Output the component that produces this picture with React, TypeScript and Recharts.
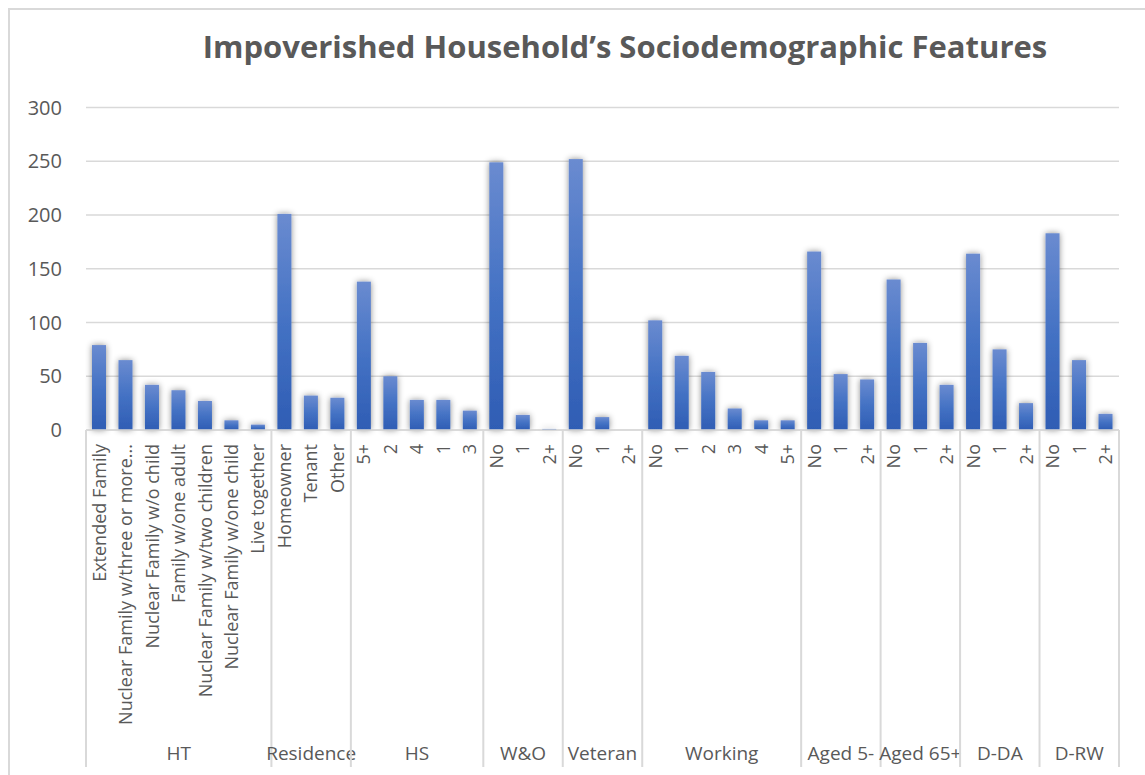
import React from 'react';
import { BarChart, Bar, XAxis, YAxis, CartesianGrid } from 'recharts';

const groups = ['HT', 'Residence', 'HS', 'W&O', 'Veteran', 'Working', 'Aged 5-', 'Aged 65+', 'D-DA', 'D-RW'];

const htLabels = [
    'Extended Family',
    'Nuclear Family w/three or more...',
    'Nuclear Family w/o child',
    'Family w/one adult',
    'Nuclear Family w/two children',
    'Nuclear Family w/one child',
    'Live together',
];
const htValues = [79, 65, 42, 37, 27, 9, 5];

const residenceLabels = ['Homeowner', 'Tenant', 'Other'];
const residenceValues = [201, 32, 30];

const hsLabels = ['5+', '2', '4', '1', '3'];
const hsValues = [138, 50, 28, 28, 18];

const woLabels = ['No', '1', '2+'];
const woValues = [249, 14, 1];

const veteranLabels = ['No', '1', '2+'];
const veteranValues = [252, 12, 0];

const workingLabels = ['No', '1', '2', '3', '4', '5+'];
const workingValues = [102, 69, 54, 20, 9, 9];

const aged5Labels = ['No', '1', '2+'];
const aged5Values = [166, 52, 47];

const aged65Labels = ['No', '1', '2+'];
const aged65Values = [140, 81, 42];

const ddaLabels = ['No', '1', '2+'];
const ddaValues = [164, 75, 25];

const drwLabels = ['No', '1', '2+'];
const drwValues = [183, 65, 15];

const yTicks = [0, 50, 100, 150, 200, 250, 300];

const groupLabels = [htLabels, residenceLabels, hsLabels, woLabels, veteranLabels, workingLabels, aged5Labels, aged65Labels, ddaLabels, drwLabels];
const groupValues = [htValues, residenceValues, hsValues, woValues, veteranValues, workingValues, aged5Values, aged65Values, ddaValues, drwValues];

// flatten into one row per bar, remembering where each group starts
const rows: any[] = [];
groups.forEach((g, gi) => {
    groupLabels[gi].forEach((label, i) => {
        rows.push({
            key: `${g}-${i}`,
            label,
            value: groupValues[gi][i],
            group: g,
            first: i === 0,
            size: groupLabels[gi].length,
        });
    });
});

const GRAY = '#595959';
const LINE = '#d9d9d9';
const FONT = '"Open Sans", sans-serif';

function CategoryTick(props: any) {
    const { x, y, payload } = props;
    const idx = props.index ?? payload.index;
    const row = rows[idx];
    const half = payload.offset ?? 13.25;
    const isLast = idx === rows.length - 1;
    return (
        <g>
            <text
                transform={`translate(${x},${y + 14}) rotate(-90)`}
                textAnchor="end"
                dy="0.35em"
                fill={GRAY}
                fontSize={18}
                fontFamily={FONT}
            >
                {row.label}
            </text>
            {row.first && (
                <>
                    <line x1={x - half} x2={x - half} y1={y} y2={y + 337} stroke={LINE} strokeWidth={2} />
                    <text
                        x={x - half + row.size * half}
                        y={y + 330}
                        textAnchor="middle"
                        fill={GRAY}
                        fontSize={19}
                        fontFamily={FONT}
                    >
                        {row.group}
                    </text>
                </>
            )}
            {isLast && <line x1={x + half} x2={x + half} y1={y} y2={y + 337} stroke={LINE} strokeWidth={2} />}
        </g>
    );
}

function ShadowBar(props: any) {
    const { x, y, width, height } = props;
    if (!height || height <= 0) return <g />;
    return <rect x={x} y={y} width={width} height={height} fill="url(#barGrad)" filter="url(#barShadow)" />;
}

export default function App() {
    return (
        <div style={{ position: 'absolute', left: 0, top: 0, width: 1145, height: 775, overflow: 'hidden', background: '#fff' }}>
            {/* chart frame, right and bottom edges fall outside the picture */}
            <div style={{ position: 'absolute', left: 8, top: 8, width: 1400, height: 900, border: `2px solid ${LINE}` }} />
            <div
                style={{
                    position: 'absolute', left: 125, top: 30.5, width: 1000, textAlign: 'center',
                    fontFamily: FONT, fontWeight: 'bold', fontSize: 31, lineHeight: '31px', color: GRAY,
                }}
            >
                Impoverished Household’s Sociodemographic Features
            </div>
            <div style={{ position: 'absolute', left: 0, top: 0 }}>
                <BarChart width={1145} height={775} data={rows} margin={{ top: 107.5, right: 26, bottom: 5, left: 10 }} barSize={14}>
                    <defs>
                        <linearGradient id="barGrad" x1="0" y1="0" x2="0" y2="1">
                            <stop offset="0%" stopColor="#6a8bd0" />
                            <stop offset="50%" stopColor="#4472c4" />
                            <stop offset="100%" stopColor="#2f5db4" />
                        </linearGradient>
                        <filter id="barShadow" filterUnits="userSpaceOnUse" x="0" y="0" width="1145" height="775">
                            <feDropShadow dx="0" dy="0" stdDeviation="3" floodColor="#000" floodOpacity="0.45" />
                        </filter>
                    </defs>
                    <CartesianGrid horizontal vertical={false} stroke={LINE} strokeWidth={1.5} />
                    <XAxis
                        dataKey="key"
                        interval={0}
                        height={340}
                        tickSize={0}
                        tickMargin={0}
                        tickLine={false}
                        axisLine={{ stroke: LINE, strokeWidth: 1.5 }}
                        tick={<CategoryTick />}
                    />
                    <YAxis
                        domain={[0, 300]}
                        ticks={yTicks}
                        width={76}
                        axisLine={false}
                        tickLine={false}
                        tickSize={0}
                        tickMargin={24}
                        tick={{ fill: GRAY, fontSize: 20, fontFamily: FONT }}
                    />
                    <Bar dataKey="value" shape={<ShadowBar />} isAnimationActive={false} />
                </BarChart>
            </div>
        </div>
    );
}
